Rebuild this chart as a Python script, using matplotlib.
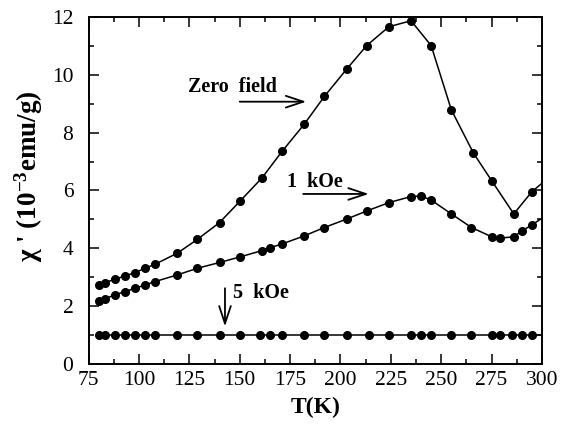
import matplotlib
matplotlib.use("Agg")
import matplotlib.pyplot as plt
from matplotlib.ticker import MultipleLocator

plt.rcParams['font.family'] = ['Liberation Serif', 'DejaVu Serif']
plt.rcParams['mathtext.fontset'] = 'custom'
plt.rcParams['mathtext.rm'] = 'Liberation Serif'
plt.rcParams['mathtext.bf'] = 'Liberation Serif:bold'

# Temperature (K) and AC susceptibility chi' (10^-3 emu/g)
T_zero = [80, 83, 88, 93, 98, 103, 108, 119, 129, 140, 150, 161, 171, 182,
          192, 203, 213, 224, 235, 245, 255, 266, 275, 286, 295, 305]
chi_zero = [2.73, 2.81, 2.93, 3.04, 3.16, 3.31, 3.45, 3.83, 4.31, 4.89, 5.62,
            6.43, 7.35, 8.29, 9.25, 10.19, 11.01, 11.66, 11.87, 11.01, 8.79,
            7.29, 6.34, 5.19, 5.96, 6.54]

T_1k = [80, 83, 88, 93, 98, 103, 108, 119, 129, 140, 150, 161, 165, 171, 182,
        192, 203, 213, 224, 235, 240, 245, 255, 265, 275, 279, 286, 290, 295, 305]
chi_1k = [2.18, 2.25, 2.39, 2.50, 2.62, 2.73, 2.85, 3.08, 3.31, 3.51, 3.70,
          3.92, 4.02, 4.15, 4.43, 4.72, 5.01, 5.29, 5.58, 5.79, 5.81, 5.67,
          5.19, 4.72, 4.40, 4.35, 4.40, 4.60, 4.81, 5.27]

T_5k = [80, 83, 88, 93, 98, 103, 108, 119, 129, 140, 150, 160, 165, 171, 182,
        192, 203, 214, 224, 235, 240, 245, 255, 265, 275, 279, 285, 290, 295, 305]
chi_5k = [1.0] * len(T_5k)

x_ticks = [75, 100, 125, 150, 175, 200, 225, 250, 275, 300]
y_ticks = [0, 2, 4, 6, 8, 10, 12]

fig = plt.figure(figsize=(5.64, 4.24), dpi=100)
ax = fig.add_axes([0.157, 0.1415, 0.804, 0.8185])

style = dict(color='black', lw=1.1, marker='o', ms=5.5, mfc='black',
             mec='black', clip_on=True)
for T, chi in ((T_zero, chi_zero), (T_1k, chi_1k), (T_5k, chi_5k)):
    ax.plot(T, chi, **style)

ax.set_xlim(75, 300)
ax.set_ylim(0, 12)
ax.set_xticks(x_ticks)
ax.set_yticks(y_ticks)
ax.xaxis.set_minor_locator(MultipleLocator(12.5))
ax.yaxis.set_minor_locator(MultipleLocator(1))
ax.tick_params(which='both', direction='in', top=True, right=True,
               labelsize=15.5, width=1.1)
ax.tick_params(axis='x', pad=5)
ax.tick_params(axis='y', pad=11)
ax.tick_params(which='major', length=7)
ax.tick_params(which='minor', length=3.5)
for s in ax.spines.values():
    s.set_linewidth(1.4)

ax.set_xlabel('T(K)', fontsize=17, fontweight='bold')
ax.xaxis.set_label_coords(0.5, -0.095)
ax.set_ylabel("χ ' (10$\\mathbf{^{-3}}$emu/g)", fontsize=19.5,
              fontweight='bold')
ax.yaxis.set_label_coords(-0.095, 0.54)

# Field labels with arrows
arrow = dict(arrowstyle='->,head_length=0.9,head_width=0.3', color='black',
             lw=1.3, mutation_scale=14, shrinkA=0, shrinkB=0)
ax.text(124.4, 9.41, 'Zero  field', fontsize=14.5, fontweight='bold')
ax.annotate('', xy=(183, 9.07), xytext=(150, 9.07), arrowprops=arrow)
ax.text(173.5, 6.12, '1  kOe', fontsize=14.5, fontweight='bold')
ax.annotate('', xy=(214, 5.88), xytext=(181.5, 5.88), arrowprops=arrow)
ax.text(146.8, 2.28, '5  kOe', fontsize=14.5, fontweight='bold')
ax.annotate('', xy=(142.7, 1.3), xytext=(142.7, 2.62), arrowprops=arrow)

fig.savefig('out.png', dpi=100)
